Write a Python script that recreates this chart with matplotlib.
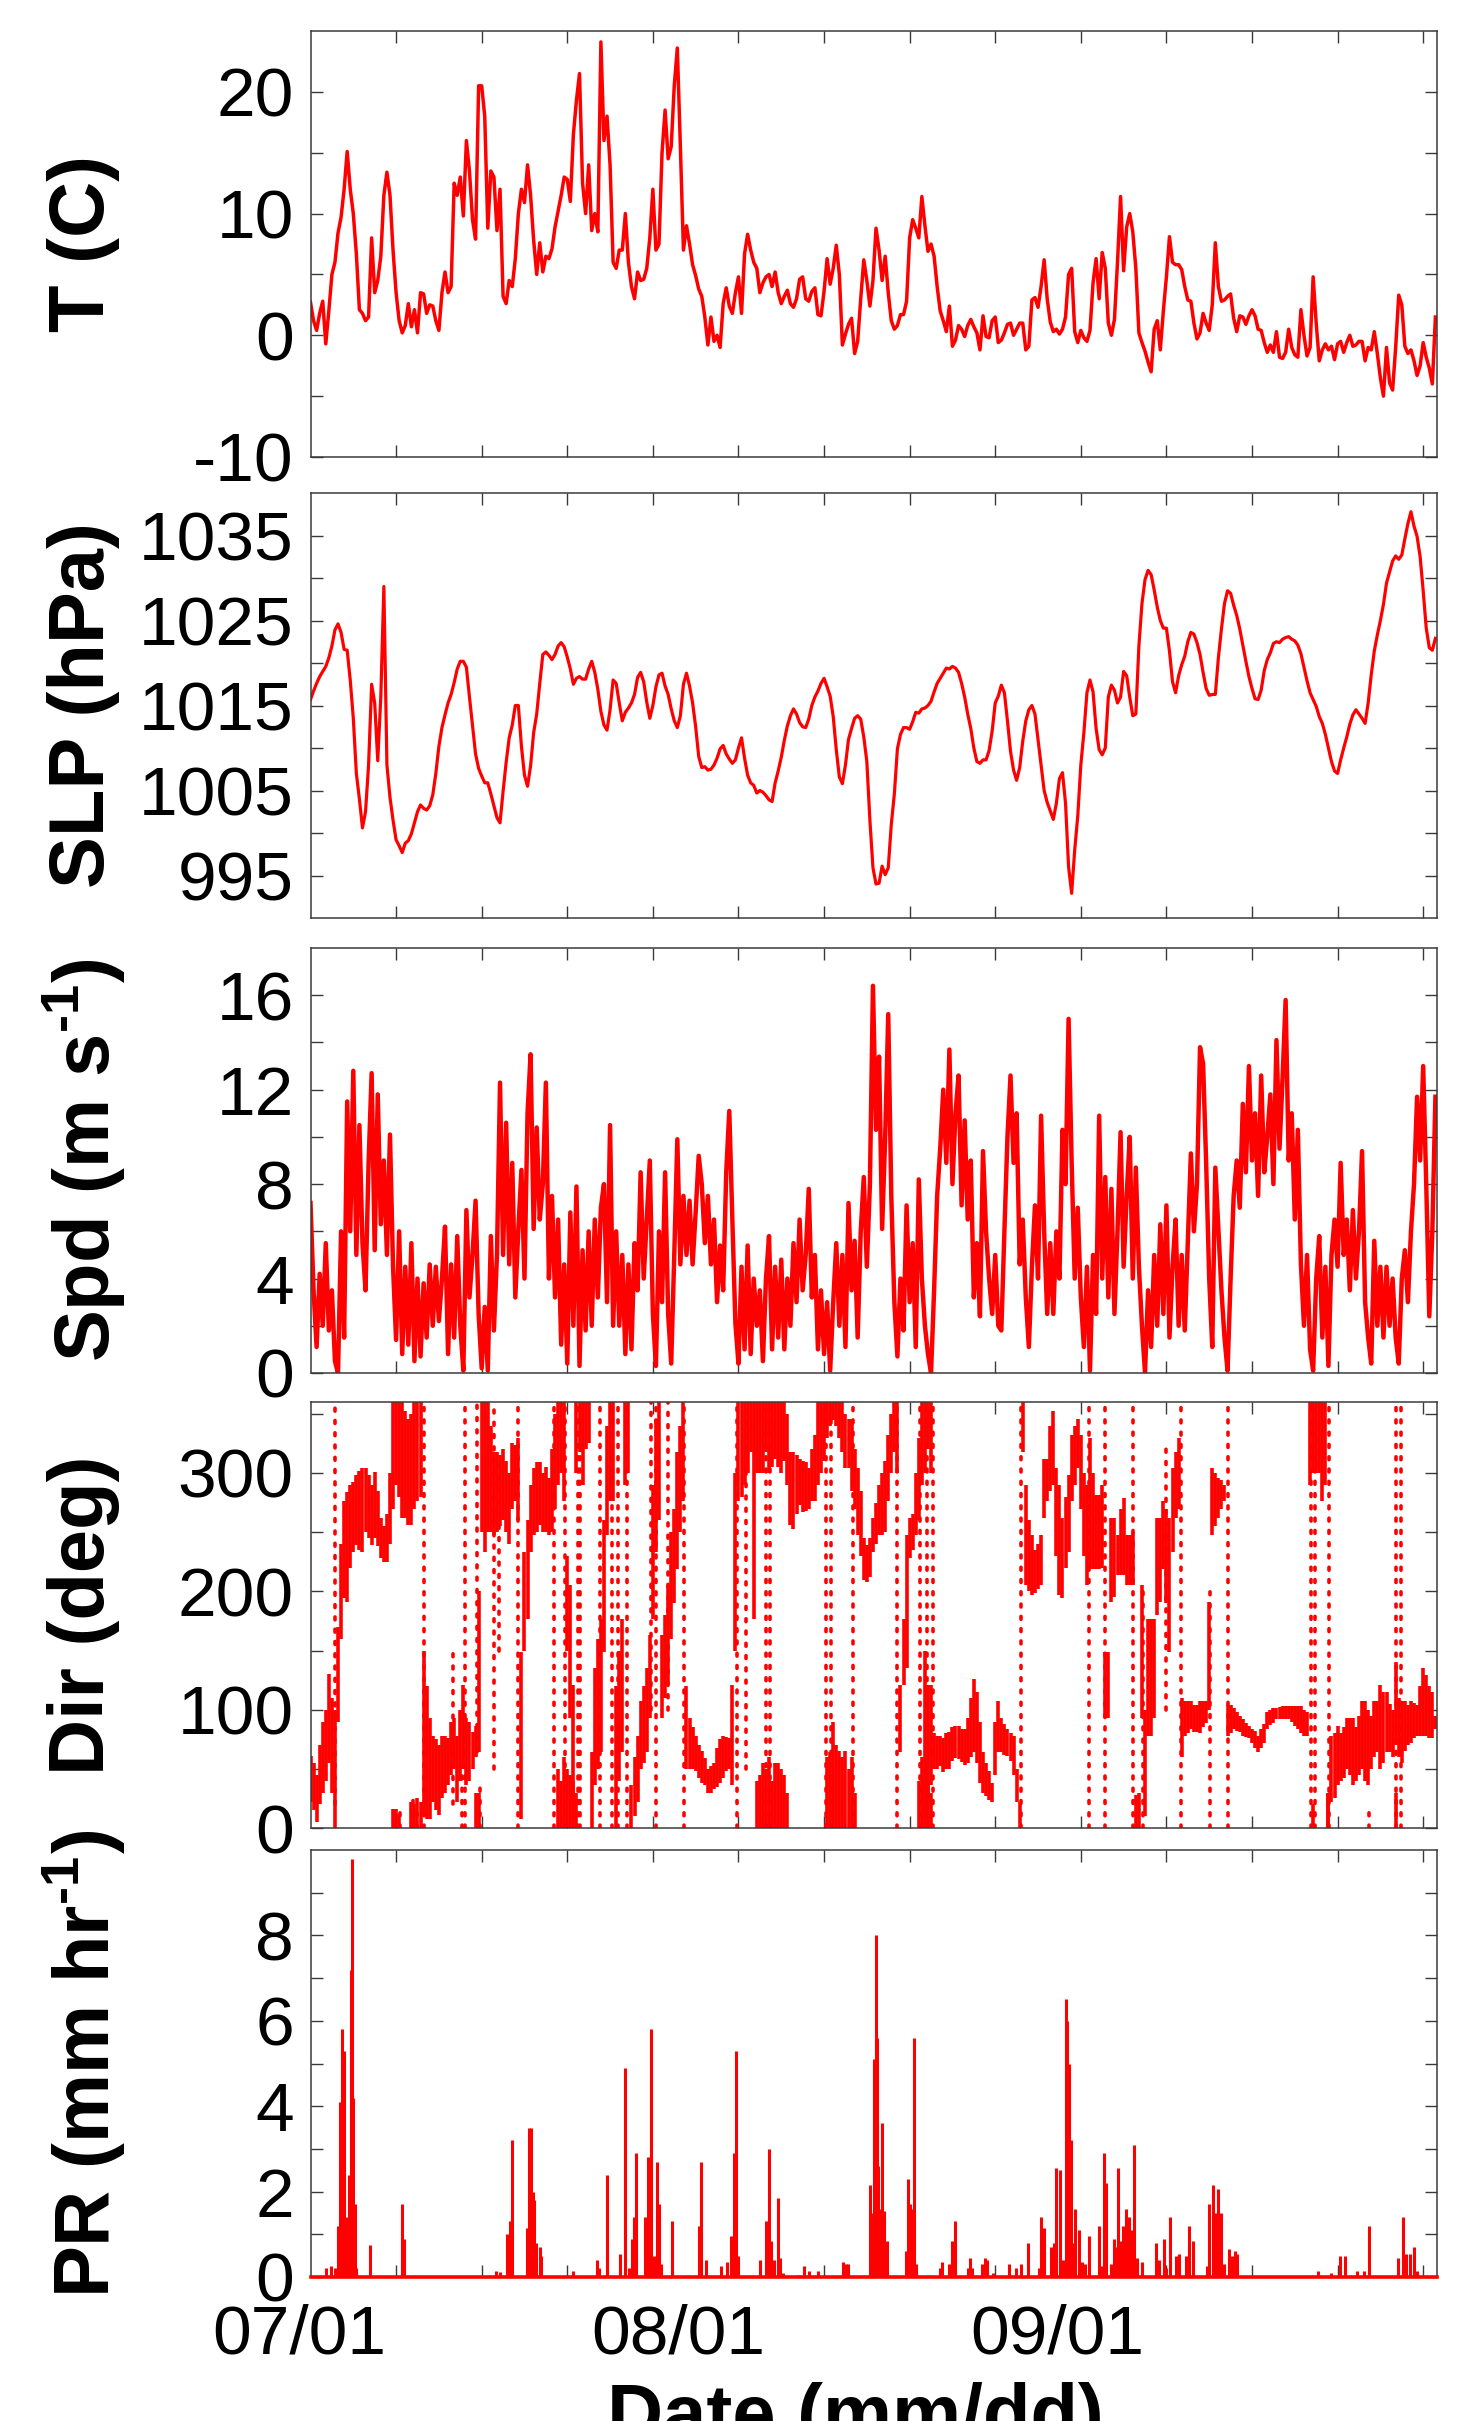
import numpy as np
import matplotlib.pyplot as plt
from matplotlib.ticker import FixedLocator

plt.rcParams['font.family'] = ['Liberation Sans', 'DejaVu Sans']
plt.rcParams['mathtext.fontset'] = 'custom'
plt.rcParams['mathtext.rm'] = 'Liberation Sans'
plt.rcParams['mathtext.bf'] = 'Liberation Sans:bold'
plt.rcParams['axes.unicode_minus'] = False

# time axis: days after 07/01 00:00, one sample every 6 h
t0 = 0.92
dt = 0.25
t_end = 93.05

temp = [
    2.7, 1.2, 0.4, 1.8, 2.8, -0.7, 2.0, 5.0, 6.0, 8.4,
    9.7, 12.0, 15.1, 12.0, 10.0, 6.7, 2.1, 1.8, 1.2, 1.5,
    8.0, 3.5, 4.5, 6.5, 11.5, 13.4, 11.5, 7.0, 3.5, 1.2,
    0.2, 0.8, 2.6, 0.7, 2.1, 0.2, 3.5, 3.4, 1.8, 2.5,
    2.4, 1.2, 0.4, 3.5, 5.2, 3.5, 4.0, 12.5, 11.5, 13.0,
    9.8, 16.0, 13.5, 9.5, 7.9, 20.5, 20.5, 18.0, 8.8, 13.5,
    13.0, 8.6, 12.0, 3.2, 2.6, 4.5, 4.0, 6.3, 10.0, 12.0,
    10.9, 14.0, 11.5, 7.8, 5.0, 7.6, 5.2, 6.5, 6.3, 7.1,
    8.9, 10.2, 11.5, 13.0, 12.8, 11.0, 16.5, 19.3, 21.5, 12.5,
    10.0, 14.0, 8.6, 10.0, 8.5, 24.1, 16.0, 18.0, 14.0, 6.0,
    5.5, 7.0, 7.0, 10.0, 6.0, 4.0, 3.0, 5.2, 4.5, 4.6,
    5.5, 8.0, 12.0, 7.0, 7.5, 15.0, 18.5, 14.5, 15.5, 20.5,
    23.6, 15.5, 7.0, 9.0, 7.5, 5.8, 4.9, 3.8, 3.2, 1.5,
    -0.8, 1.5, -0.5, 0.0, -1.0, 2.6, 3.9, 2.4, 1.8, 3.5,
    4.8, 1.8, 6.7, 8.3, 7.0, 6.0, 5.5,
    3.5, 4.3, 4.8, 5.0, 4.0, 5.2, 3.5, 2.6, 3.2, 3.7,
    2.6, 2.3, 3.0, 4.6, 4.8, 3.0, 2.8, 3.6, 3.9, 1.7,
    1.6, 3.6, 6.3, 4.2, 5.5, 7.4, 5.0, -0.8, 0.1, 0.9,
    1.4, -1.5, -0.5, 3.0, 6.2, 4.5, 2.4, 4.5, 8.8, 7.0,
    4.5, 6.5, 3.5, 1.2, 0.5, 0.8, 1.7, 1.7, 2.8, 8.0,
    9.5, 8.8, 8.0, 11.4, 9.0, 6.9, 7.5, 6.5, 4.0, 2.0,
    1.2, 0.3, 2.4, -0.9, -0.4, 0.8, 0.5, -0.1, 0.8, 1.3,
    0.7, 0.2, -1.2, 1.6, -0.1, -0.2, 1.2, 1.5, -0.6, -0.4,
    0.2, 0.9, 1.0, 0.0, 0.5, 1.0, 1.0, -1.2, -0.9, 2.9,
    3.1, 2.3, 4.0, 6.2, 3.0, 1.1, 0.3, 0.5, 0.1, 0.5,
    1.5, 5.0, 5.5, 0.3, -0.6, 0.4, -0.2, -0.5, 0.4, 4.3,
    6.3, 3.0, 6.8, 5.5, 1.0, 0.0, 1.3, 6.0, 11.4, 5.3,
    8.9, 10.0, 8.5, 5.5, 0.2, -0.6, -1.3, -2.2, -3.0, 0.5,
    1.2, -1.2, 2.0, 4.8, 8.1, 6.0, 5.8, 5.8, 5.4, 4.0,
    2.9, 2.8, 1.0, -0.3, 0.2, 1.8, 1.0, 0.4, 2.5, 7.6,
    4.0, 2.8, 2.9, 3.2, 3.4, 1.4, 0.3, 1.6, 1.5, 0.9,
    1.6, 2.1, 1.6, 0.5, 0.4, -0.6, -1.4, -0.8, -1.4, 0.3,
    -1.8, -1.9, -1.4, 0.5, -1.0, -1.6, -1.8, 2.1, 0.0, -1.7,
    -1.0, 4.8, 1.0, -2.1, -1.2, -0.7, -1.2, -0.9, -2.0, -0.7,
    -0.5, -1.4, -0.6, 0.0, -0.9, -0.8, -0.5, -0.5, -2.1, -1.0,
    -1.2, 0.3, -1.5, -3.5, -5.0, -1.0, -3.9, -4.5, -1.0, 3.3,
    2.5, -0.9, -1.5, -1.2, -2.1, -3.3, -2.5, -0.6, -1.8, -2.7,
    -4.0, 1.5,
]

slp = [
    1015.7, 1016.7, 1017.6, 1018.4, 1019.0, 1019.6, 1020.6, 1022.0, 1023.9, 1024.6,
    1023.6, 1021.6, 1021.5, 1018.0, 1013.5, 1007.0, 1004.0, 1000.6, 1002.5, 1008.0,
    1017.5, 1015.3, 1008.5, 1016.0, 1029.0, 1008.0, 1004.2, 1001.5, 999.2, 998.5,
    997.7, 998.8, 999.1, 999.9, 1001.2, 1002.5, 1003.3, 1002.9, 1002.7, 1003.2,
    1004.5, 1007.0, 1010.2, 1012.4, 1013.9, 1015.3, 1016.3, 1017.7, 1019.3, 1020.2,
    1020.2, 1019.5, 1016.0, 1012.7, 1009.3, 1007.6, 1006.7, 1005.9, 1005.9, 1004.6,
    1003.2, 1001.8, 1001.2, 1004.9, 1008.3, 1011.2, 1012.7, 1015.0, 1015.0, 1010.2,
    1006.8, 1005.5, 1007.9, 1011.8, 1014.0, 1017.6, 1021.0, 1021.3, 1020.9, 1020.4,
    1021.0, 1022.0, 1022.4, 1021.9, 1020.7, 1019.3, 1017.5, 1018.2, 1018.4, 1018.1,
    1018.1, 1019.3, 1020.2, 1018.9, 1016.9, 1014.3, 1012.7, 1012.1, 1014.5, 1018.0,
    1017.6, 1015.3, 1013.2, 1014.2, 1014.7, 1015.3, 1016.3, 1018.3, 1018.9, 1017.8,
    1015.4, 1013.5, 1015.0, 1017.2, 1018.6, 1018.8, 1017.3, 1016.3, 1014.6, 1013.2,
    1012.4, 1013.8, 1017.5, 1018.8, 1017.3, 1015.3, 1012.5, 1009.0, 1007.7, 1007.8,
    1007.4, 1007.5, 1008.0, 1008.8, 1009.9, 1010.3, 1009.3, 1008.7, 1008.2, 1008.6,
    1010.0, 1011.2, 1008.8, 1006.8, 1005.9, 1005.6, 1004.7,
    1005.0, 1004.8, 1004.4, 1003.9, 1003.7, 1005.9, 1007.3, 1008.9, 1010.9, 1012.6,
    1013.8, 1014.6, 1014.0, 1013.0, 1012.5, 1012.4, 1013.4, 1015.0, 1016.0, 1016.7,
    1017.6, 1018.2, 1017.2, 1016.1, 1013.7, 1009.8, 1006.6, 1005.8, 1008.0, 1011.0,
    1012.3, 1013.5, 1013.8, 1013.4, 1011.3, 1008.4, 1001.5, 995.9, 994.0, 994.1,
    996.1, 995.1, 995.9, 1001.0, 1004.6, 1009.9, 1011.6, 1012.4, 1012.4, 1012.2,
    1013.1, 1014.2, 1014.1, 1014.6, 1014.7, 1015.0, 1015.5, 1016.6, 1017.6, 1018.2,
    1018.8, 1019.4, 1019.3, 1019.6, 1019.4, 1018.9, 1017.6, 1016.0, 1014.0, 1012.3,
    1010.0, 1008.4, 1008.2, 1008.6, 1008.6, 1009.7, 1012.0, 1015.3, 1016.1, 1017.4,
    1016.5, 1013.2, 1009.6, 1007.4, 1006.2, 1007.7, 1010.8, 1013.2, 1014.5, 1015.0,
    1014.0, 1011.0, 1008.0, 1005.0, 1003.6, 1002.6, 1001.6, 1003.5, 1006.4, 1007.1,
    1003.5, 996.0, 992.9, 998.0, 1002.0, 1008.0, 1011.8, 1016.5, 1018.0, 1016.6,
    1012.3, 1009.8, 1009.2, 1010.0, 1016.0, 1017.4, 1016.8, 1015.3, 1016.0, 1019.0,
    1018.5, 1016.0, 1013.8, 1014.0, 1022.0, 1027.0, 1029.8, 1030.9, 1030.4, 1028.6,
    1026.6, 1025.0, 1024.1, 1024.1, 1021.4, 1017.8, 1016.5, 1018.5, 1019.8, 1020.8,
    1022.5, 1023.6, 1023.4, 1022.4, 1021.0, 1018.9, 1017.0, 1016.2, 1016.3, 1016.3,
    1020.6, 1024.0, 1027.0, 1028.5, 1028.2, 1026.8, 1025.6, 1024.0, 1022.1, 1020.2,
    1018.4, 1017.0, 1015.8, 1015.7, 1016.8, 1019.1, 1020.4, 1021.2, 1022.3, 1022.5,
    1022.4, 1022.8, 1023.0, 1023.1, 1022.8, 1022.6, 1022.1, 1021.1, 1019.5, 1017.9,
    1016.5, 1015.7, 1014.9, 1013.7, 1012.9, 1011.6, 1010.0, 1008.4, 1007.3, 1007.0,
    1008.6, 1010.0, 1011.3, 1012.8, 1013.9, 1014.5, 1014.0, 1013.5, 1012.9, 1015.3,
    1018.6, 1021.4, 1023.3, 1025.0, 1026.9, 1029.4, 1030.7, 1032.0, 1032.6, 1032.2,
    1032.7, 1034.6, 1036.4, 1037.8, 1036.1, 1034.9, 1032.5, 1028.5, 1024.1, 1021.8,
    1021.5, 1022.9,
]

spd = [
    7.2, 3.5, 1.1, 4.2, 2.0, 5.5, 1.8, 3.5, 0.5, 0.0,
    6.0, 1.5, 11.5, 6.0, 12.8, 5.0, 10.5, 5.5, 3.5, 8.9,
    12.7, 5.2, 11.8, 6.3, 9.0, 5.0, 10.1, 4.5, 1.4, 6.0,
    0.8, 4.5, 1.2, 5.5, 0.5, 4.0, 0.7, 3.8, 1.5, 4.6,
    2.0, 4.5, 2.2, 4.0, 6.2, 0.8, 4.6, 1.5, 5.8, 2.0,
    0.1, 6.9, 3.2, 5.0, 7.3, 2.5, 0.2, 2.8, 0.1, 5.8,
    1.8, 5.0, 12.3, 5.0, 10.6, 4.6, 8.9, 3.2, 6.1, 8.6,
    4.0, 11.0, 13.5, 6.1, 10.4, 6.5, 8.0, 12.3, 4.0, 7.5,
    3.2, 6.5, 1.2, 4.6, 0.4, 6.8, 2.0, 7.9, 0.3, 5.2,
    1.8, 6.0, 2.0, 6.5, 3.2, 7.0, 8.0, 3.0, 10.5, 2.0,
    6.0, 2.0, 5.0, 0.8, 4.6, 1.0, 5.5, 3.5, 8.5, 4.0,
    6.5, 9.0, 2.5, 0.3, 6.0, 3.0, 8.5, 2.5, 0.4, 5.0,
    9.9, 4.6, 7.5, 5.0, 7.3, 4.6, 6.8, 9.2, 8.0, 5.5,
    7.5, 4.6, 6.5, 3.0, 5.4, 3.5, 8.5, 11.1, 6.5, 2.1,
    0.4, 4.5, 1.0, 5.4, 0.8, 4.0, 2.0,
    3.5, 0.5, 4.0, 5.8, 1.0, 4.5, 1.5, 4.8, 1.0, 4.0,
    2.0, 5.5, 3.0, 6.5, 3.5, 5.0, 7.8, 3.2, 5.0, 1.0,
    3.5, 0.8, 3.0, 0.1, 3.0, 5.5, 2.0, 5.0, 1.1, 7.2,
    3.5, 5.6, 1.5, 6.0, 8.3, 4.5, 8.0, 16.4, 10.3, 13.4,
    6.1, 10.0, 15.2, 7.5, 3.0, 0.7, 4.0, 1.8, 7.1, 3.0,
    5.5, 1.1, 8.2, 4.0, 2.0, 0.8, 0.0, 3.5, 7.5, 9.5,
    12.0, 8.9, 13.7, 8.0, 11.0, 12.6, 7.1, 10.7, 6.5, 9.0,
    3.2, 5.5, 2.4, 9.4, 6.0, 4.0, 2.5, 5.0, 2.0, 1.8,
    6.0, 10.0, 12.6, 8.9, 11.0, 4.6, 6.5, 3.2, 1.1, 4.5,
    7.1, 4.0, 10.9, 6.0, 2.5, 5.5, 2.5, 6.0, 4.0, 10.3,
    8.0, 15.0, 8.9, 4.0, 7.0, 3.2, 1.1, 4.5, 0.1, 5.0,
    2.5, 10.9, 4.0, 8.3, 3.2, 7.8, 2.5, 6.0, 10.2, 4.5,
    7.5, 10.0, 4.0, 8.7, 4.5, 2.0, 0.0, 3.5, 1.1, 5.0,
    2.0, 6.3, 2.5, 7.1, 1.5, 4.5, 6.5, 2.0, 5.0, 1.8,
    5.5, 9.3, 6.0, 8.0, 13.8, 13.1, 8.9, 4.0, 1.1, 8.7,
    6.1, 3.5, 1.5, 0.1, 4.0, 7.5, 9.0, 7.0, 11.4, 8.5,
    13.0, 9.0, 11.0, 7.5, 12.6, 8.5, 10.0, 11.8, 8.0, 14.1,
    9.5, 12.5, 15.8, 9.0, 11.0, 6.5, 10.3, 4.6, 2.0, 5.0,
    1.0, 0.1, 4.0, 5.8, 1.5, 4.5, 0.3, 5.0, 6.5, 4.5,
    8.9, 5.0, 6.5, 3.5, 6.9, 4.0, 6.0, 9.4, 3.0, 1.5,
    0.4, 5.6, 2.0, 4.5, 1.5, 4.5, 2.0, 4.0, 1.5, 0.4,
    4.0, 5.2, 3.0, 6.0, 8.0, 11.7, 9.0, 13.0, 8.0, 2.4,
    6.0, 11.7,
]

# spread of wind direction (low, high) in each 6-h sample
dir_range = [
    (22, 61), (15, 55), (5, 45), (20, 70), (30, 90), (40, 100), (55, 130), (30, 110), (0, 100), (90, 170),
    (160, 240), (194, 276), (191, 284), (220, 290), (233, 292), (239, 298), (235, 302), (233, 304), (250, 304), (245, 298),
    (239, 290), (245, 301), (238, 285), (228, 262), (225, 255), (225, 265), (240, 300), (270, 360), (290, 360), (280, 360),
    (262, 360), (262, 352), (256, 346), (256, 350), (270, 360), (276, 360), (280, 360), (10, 150), (8, 120), (8, 93),
    (22, 78), (15, 75), (11, 70), (25, 78), (30, 78), (36, 76), (45, 90), (50, 93), (22, 78), (40, 100),
    (50, 121), (36, 93), (40, 90), (50, 81), (60, 86), (64, 200), (250, 360), (233, 360), (250, 360), (250, 340),
    (248, 318), (250, 318), (255, 315), (260, 320), (250, 310), (240, 300), (270, 325), (276, 324), (260, 330), (8, 149),
    (150, 233), (177, 260), (233, 290), (248, 304), (250, 309), (256, 309), (250, 300), (250, 305), (248, 296), (250, 320),
    (270, 350), (290, 360), (300, 360), (276, 360), (150, 230), (93, 205), (8, 121), (300, 360), (318, 360), (290, 360),
    (320, 360), (325, 360), (0, 64), (36, 135), (50, 160), (64, 177), (149, 260), (248, 340), (276, 360), (276, 360),
    (0, 120), (40, 150), (64, 177), (290, 360), (300, 360), (0, 36), (10, 60), (22, 78), (50, 107), (55, 120),
    (64, 135), (93, 163), (177, 290), (233, 346), (260, 360), (93, 163), (110, 180), (121, 205), (160, 250), (190, 270),
    (219, 318), (250, 340), (276, 360), (50, 120), (50, 93), (50, 85), (48, 78), (42, 70), (38, 65), (36, 59),
    (30, 50), (30, 52), (33, 55), (35, 68), (38, 75), (42, 78), (48, 77), (50, 76), (36, 121), (150, 300),
    (276, 360), (280, 360), (290, 360), (300, 360), (318, 360), (177, 360), (300, 360),
    (300, 360), (300, 360), (318, 360), (300, 360), (305, 360), (312, 360), (305, 360), (300, 360), (310, 360), (290, 350),
    (256, 318), (253, 318), (265, 315), (273, 312), (267, 310), (268, 309), (270, 304), (276, 320), (276, 332), (290, 360),
    (300, 360), (310, 360), (330, 360), (340, 360), (345, 360), (340, 360), (330, 360), (318, 360), (304, 350), (304, 346),
    (285, 346), (270, 320), (248, 304), (230, 285), (210, 245), (208, 239), (212, 245), (233, 262), (240, 275), (248, 290),
    (248, 300), (250, 310), (276, 332), (300, 350), (318, 360), (300, 360), (64, 121), (121, 177), (135, 248), (228, 262),
    (235, 265), (248, 300), (260, 330), (290, 360), (8, 150), (20, 121), (36, 121), (50, 80), (50, 78), (52, 78),
    (47, 76), (50, 80), (50, 81), (57, 85), (59, 86), (58, 86), (56, 84), (53, 84), (55, 93), (60, 110),
    (64, 126), (55, 115), (38, 90), (30, 64), (27, 55), (24, 48), (22, 38), (45, 90), (64, 107), (64, 93),
    (62, 88), (61, 84), (57, 80), (45, 78), (22, 50), (0, 22), (318, 360), (205, 290), (200, 260), (197, 248),
    (199, 235), (202, 240), (205, 248), (262, 312), (276, 312), (285, 340), (290, 352), (230, 304), (197, 290), (194, 262),
    (220, 280), (233, 298), (276, 332), (290, 340), (304, 346), (270, 332), (230, 300), (205, 290), (219, 330), (219, 300),
    (219, 281), (219, 281), (220, 290), (93, 149), (93, 149), (191, 262), (195, 262), (214, 248), (214, 270), (214, 279),
    (205, 248), (205, 248), (205, 250), (0, 28), (0, 30), (93, 205), (10, 100), (78, 177), (78, 177), (93, 177),
    (180, 262), (191, 262), (219, 276), (190, 270), (149, 262), (233, 304), (262, 318), (270, 330), (60, 110), (78, 107),
    (80, 107), (84, 107), (81, 104), (81, 104), (80, 107), (85, 107), (89, 107), (100, 191), (248, 304), (255, 300),
    (262, 296), (270, 294), (276, 290), (78, 104), (80, 104), (84, 101), (82, 98), (81, 95), (78, 92), (77, 89),
    (76, 86), (72, 84), (68, 82), (64, 78), (68, 84), (72, 88), (84, 98), (87, 100), (89, 101), (92, 101),
    (92, 102), (92, 103), (92, 103), (92, 103), (90, 103), (86, 103), (84, 103), (80, 103), (78, 100), (78, 98),
    (290, 360), (300, 360), (300, 360), (300, 360), (276, 360), (290, 360), (0, 30), (22, 78), (25, 80), (36, 86),
    (40, 80), (42, 85), (50, 93), (45, 93), (36, 93), (40, 85), (45, 95), (50, 107), (40, 107), (36, 100),
    (50, 95), (60, 107), (64, 107), (50, 121), (55, 115), (64, 115), (64, 105), (60, 100), (70, 140), (60, 110),
    (55, 107), (65, 107), (70, 104), (72, 107), (76, 106), (78, 104), (78, 120), (78, 135), (78, 129), (76, 120),
    (76, 115), (84, 95),
]

# second cluster while the direction sits on both sides of north
wrap_day = [7.67, 7.92, 8.17, 9.17, 9.42, 9.67, 9.92, 14.42, 14.67,
            21.17, 21.42, 21.67, 21.92, 22.17, 22.42, 22.67,
            37.42, 37.67, 37.92, 38.17, 38.42, 38.67, 38.92, 39.17, 39.42, 39.67, 39.92,
            43.17, 43.42, 43.67, 43.92, 44.17, 44.42, 44.67, 44.92, 45.17, 45.42,
            50.67, 50.92, 51.17, 51.42, 51.67, 51.17, 51.42, 51.67,
            82.92, 84.17, 89.67]
wrap_lo = [0, 0, 0, 0, 0, 0, 0, 0, 0,
           0, 0, 0, 0, 0, 0, 0,
           0, 0, 0, 0, 0, 0, 0, 0, 0, 0, 0,
           0, 0, 0, 0, 0, 0, 0, 0, 0, 0,
           0, 0, 0, 0, 0, 300, 320, 300,
           0, 0, 0]
wrap_hi = [16, 16, 12, 22, 20, 25, 22, 30, 30,
           50, 40, 60, 50, 45, 40, 30,
           40, 45, 55, 50, 60, 40, 55, 55, 50, 45, 30,
           60, 64, 90, 70, 65, 60, 65, 50, 60, 30,
           40, 60, 50, 40, 30, 360, 360, 360,
           20, 30, 30]

# scattered readings during fast direction swings
swing_day = [2.89, 7.8, 8.2, 9.3, 9.6, 10.2, 12.57, 13.35, 13.55, 14.5, 14.8, 15.92, 16.3,
             17.9, 20.86, 21.7, 22.8, 23.0, 24.6, 25.6, 26.1, 26.8, 28.75, 29.15, 30.13,
             31.5, 35.8, 36.5, 38.2, 38.5, 43.07, 43.5, 45.25, 48.9, 50.8, 51.3, 51.8,
             59.0, 64.6, 65.9, 68.2, 69.0, 70.9, 72.1, 74.5, 75.96, 82.75, 83.1, 84.2,
             87.5, 89.7, 90.1]
swing_lo = [20, 0, 0, 0, 0, 0, 20, 0, 0, 64, 0, 50, 150,
            0, 0, 0, 0, 0, 0, 0, 0, 0, 100, 0, 100,
            0, 0, 50, 0, 0, 0, 0, 0, 0, 0, 0, 0,
            0, 0, 0, 0, 0, 100, 0, 0, 0, 0, 0, 0,
            0, 0, 0]
swing_hi = [360, 20, 18, 25, 20, 360, 150, 60, 360, 360, 40, 360, 310,
            360, 360, 360, 360, 360, 360, 360, 360, 360, 360, 360, 360,
            360, 360, 360, 360, 360, 360, 360, 360, 360, 360, 360, 360,
            360, 360, 360, 360, 200, 320, 360, 200, 360, 360, 360, 360,
            15, 360, 360]

# hourly precipitation rate, rainy hours only
rain_day = [
    2.15, 2.62, 2.94, 3.13, 3.33, 3.49, 3.65, 3.81, 3.96, 4.08, 4.2, 4.28, 4.4, 4.52, 4.67,
    5.78, 8.43, 8.55, 16.06, 16.45, 17.01, 17.24, 17.44, 18.63, 18.83, 18.94, 19.1, 19.22,
    19.34, 19.7, 19.81, 22.38, 24.36, 24.48, 25.19, 26.26, 26.65, 26.97, 27.2, 27.36, 27.56,
    28.31, 28.55, 28.79, 28.98, 29.22, 29.42, 29.58, 30.48, 32.66, 32.84, 33.23, 34.5,
    35.01, 35.29, 35.52, 35.76, 35.92, 37.65, 38.21, 38.4, 38.6, 38.8, 39.15, 39.35, 39.55,
    40.85, 41.25, 41.72, 42.43, 44.48, 44.68, 44.88, 46.65, 46.81, 46.97, 47.13, 47.24,
    47.36, 47.52, 47.68, 47.84, 48.07, 49.61, 49.81, 49.97, 50.09, 50.28, 50.44, 52.37,
    52.57, 53.16, 53.36, 53.6, 54.66, 54.86, 55.06, 55.85, 56.08, 56.28, 56.75, 58.02,
    58.65, 59.0, 59.56, 60.46, 60.66, 60.9, 61.45, 61.69, 61.88, 62.24, 62.44, 62.67,
    62.83, 62.99, 63.11, 63.27, 63.42, 63.74, 64.02, 64.29, 64.57, 65.4, 65.6, 65.83,
    65.99, 66.38, 66.62, 66.78, 66.98, 67.17, 67.41, 67.65, 67.88, 68.08, 68.28, 68.55,
    68.95, 70.05, 70.33, 70.72, 70.92, 71.2, 71.71, 71.91, 72.5, 72.78, 73.09, 74.2,
    74.43, 74.75, 74.95, 75.18, 75.38, 75.66, 76.05, 76.25, 76.53, 76.72, 83.35, 84.34,
    85.13, 85.52, 86.51, 87.1, 87.46, 89.9, 90.26, 90.54, 90.85, 91.17, 91.45,
]
rain_rate = [
    0.2, 0.25, 0.2, 1.2, 4.1, 5.8, 5.3, 1.4, 1.0, 2.4, 7.2, 9.8, 4.2, 1.7, 0.2,
    0.75, 1.7, 0.9, 0.15, 0.12, 1.0, 1.3, 3.2, 1.15, 3.5, 3.5, 2.0, 1.8,
    0.8, 0.7, 0.5, 0.15, 0.4, 0.2, 2.4, 0.55, 4.9, 0.2, 0.9, 1.4, 2.9,
    1.4, 2.8, 5.8, 0.5, 2.7, 1.7, 0.3, 1.3, 1.2, 2.7, 0.4, 0.25,
    0.35, 0.95, 2.9, 5.3, 0.5, 0.4, 1.3, 3.0, 0.85, 0.4, 1.85, 0.45, 0.1,
    0.05, 0.25, 0.15, 0.15, 0.35, 0.3, 0.3, 2.15, 1.5, 5.1, 8.0, 5.6,
    2.6, 1.6, 3.6, 1.55, 0.85, 0.6, 2.3, 1.7, 1.6, 5.6, 0.3, 0.2,
    0.35, 0.3, 0.85, 1.3, 0.2, 0.45, 0.2, 0.3, 0.45, 0.4, 0.1, 0.3,
    0.2, 0.3, 0.8, 0.2, 1.4, 1.15, 0.7, 0.8, 2.55, 2.5, 0.4, 6.5,
    6.0, 5.0, 3.2, 0.8, 1.6, 1.1, 0.35, 0.3, 0.95, 1.2, 0.25, 2.9,
    2.2, 0.3, 0.9, 0.7, 2.55, 0.85, 1.2, 1.6, 1.4, 1.1, 3.1, 0.45,
    0.35, 0.8, 0.4, 0.9, 0.2, 1.4, 0.5, 0.55, 0.5, 1.2, 0.85, 0.25,
    1.7, 2.15, 1.5, 2.05, 1.5, 0.3, 0.65, 0.5, 0.6, 0.55, 0.15, 0.1,
    0.5, 0.5, 0.15, 0.15, 1.2, 0.45, 1.4, 0.55, 0.55, 0.7, 0.15,
]

date_days = [0, 31, 62]
date_labels = ['07/01', '08/01', '09/01']

RED = '#ff0000'
EDGE = '#3a3a3a'
W, H = 1458, 2421

fig = plt.figure(figsize=(W / 100, H / 100), dpi=100)


def panel(top, bottom):
    left, right = 310.5, 1437
    return fig.add_axes([left / W, 1 - bottom / H, (right - left) / W, (bottom - top) / H])


def style(ax, major, minor, lim):
    ax.set_xlim(t0, t_end)
    ax.xaxis.set_major_locator(FixedLocator(t0 + 7 * np.arange(1, 14)))
    ax.set_ylim(*lim)
    ax.yaxis.set_major_locator(FixedLocator(major))
    ax.yaxis.set_minor_locator(FixedLocator(minor))
    ax.tick_params(which='both', direction='in', top=True, right=True,
                   length=8.5, width=1.0, color=EDGE, labelsize=50, pad=12,
                   labelbottom=False)
    for sp in ax.spines.values():
        sp.set_color(EDGE)
        sp.set_linewidth(1.1)


def ylabel(ax, text):
    box = ax.get_position()
    fig.text(84 / W, (box.y0 + box.y1) / 2, text, rotation=90, ha='center',
             va='center', fontsize=56, fontweight='bold')


def times(series):
    return t0 + dt * np.arange(len(series))


ax1 = panel(31, 457)
ax1.plot(times(temp), temp, color=RED, lw=2.5)
style(ax1, [-10, 0, 10, 20], [-5, 5, 15], (-10, 25))
ylabel(ax1, 'T (C)')

ax2 = panel(493, 918)
ax2.plot(times(slp), slp, color=RED, lw=2.3)
style(ax2, [995, 1005, 1015, 1025, 1035], [1000, 1010, 1020, 1030], (990, 1040))
ylabel(ax2, 'SLP (hPa)')

ax3 = panel(948, 1373)
ax3.plot(times(spd), spd, color=RED, lw=3.2)
style(ax3, [0, 4, 8, 12, 16], [2, 6, 10, 14], (0, 18))
ylabel(ax3, 'Spd (m s$^{\\mathbf{\u2010 1}}$)')

ax4 = panel(1402, 1828)
dir_arr = np.array(dir_range, dtype=float)
ax4.vlines(times(dir_range), dir_arr[:, 0], dir_arr[:, 1], color=RED, lw=2.6)
ax4.vlines(wrap_day, wrap_lo, wrap_hi, color=RED, lw=2.6)
ax4.vlines(swing_day, swing_lo, swing_hi, color=RED, lw=2.6,
           linestyles=(0, (0.8, 2.6)), capstyle='round')
style(ax4, [0, 100, 200, 300], [50, 150, 250, 350], (0, 360))
ylabel(ax4, 'Dir (deg)')

ax5 = panel(1850, 2277)
ax5.vlines(rain_day, 0, rain_rate, color=RED, lw=2.2)
ax5.axhline(0, color=RED, lw=2.6, clip_on=False, zorder=3)
style(ax5, [0, 2, 4, 6, 8], [1, 3, 5, 7, 9], (0, 10))
ylabel(ax5, 'PR (mm hr$^{\\mathbf{\u2010 1}}$)')
for d, lab in zip(date_days, date_labels):
    ax5.text(d, -0.178, lab, transform=ax5.get_xaxis_transform(), ha='center',
             va='baseline', fontsize=50, clip_on=False)

fig.text(855 / W, 1 - 2439 / H, 'Date (mm/dd)', ha='center', va='baseline',
         fontsize=56, fontweight='bold')

fig.savefig('out.png', dpi=100)
